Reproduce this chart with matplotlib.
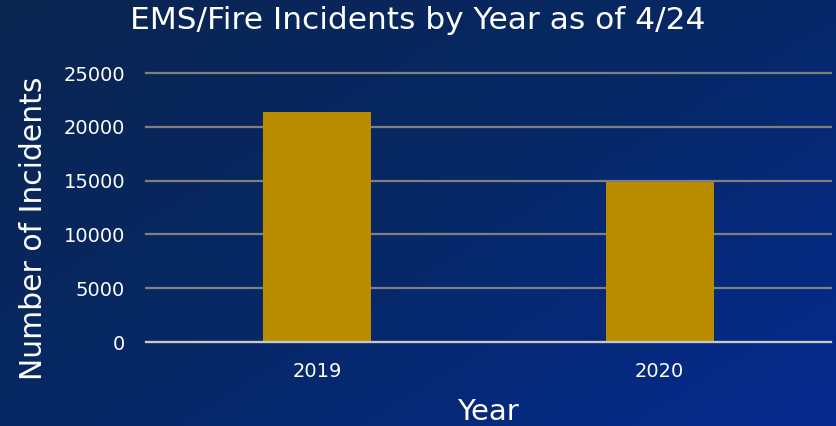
import numpy as np
import matplotlib.pyplot as plt
from matplotlib.colors import LinearSegmentedColormap

# Chart data
years = ["2019", "2020"]
incidents = [21400, 14850]
y_ticks = [0, 5000, 10000, 15000, 20000, 25000]

BAR_COLOR = "#b98c00"
FONT = "DejaVu Sans"

fig = plt.figure(figsize=(8.36, 4.26), dpi=100)

# gradient background (dark navy top-left -> brighter blue bottom-right)
bg = fig.add_axes([0, 0, 1, 1], zorder=0)
xx, yy = np.meshgrid(np.linspace(0, 1, 200), np.linspace(0, 1, 100))
grad = (xx * 0.55 + yy * 0.45)
cmap = LinearSegmentedColormap.from_list("bg", ["#0a2550", "#072866", "#052a8f"])
bg.imshow(grad, cmap=cmap, aspect="auto", extent=[0, 1, 0, 1], origin="upper")
bg.axis("off")

ax = fig.add_axes([0.1746, 0.197, 0.8194, 0.6315], zorder=1)
ax.patch.set_alpha(0)

x = np.arange(len(years))
ax.bar(x, incidents, width=0.315, color=BAR_COLOR, zorder=3)

ax.set_xlim(-0.5, len(years) - 0.5)
ax.set_ylim(0, 25000)
ax.set_yticks(y_ticks)
ax.set_yticklabels([str(t) for t in y_ticks])
ax.set_xticks(x)
ax.set_xticklabels(years)

ax.grid(axis="y", color="#7f7f7f", linewidth=1.6, zorder=1)
for gl in ax.get_ygridlines():
    gl.set_clip_on(False)
ax.axhline(0, color="#c8c8c8", linewidth=1.6, zorder=4, clip_on=False)
for s in ax.spines.values():
    s.set_visible(False)
ax.tick_params(axis="both", length=0, colors="white", labelsize=14)
ax.tick_params(axis="y", pad=15)
ax.tick_params(axis="x", pad=14)
for lbl in ax.get_xticklabels() + ax.get_yticklabels():
    lbl.set_fontfamily(FONT)

fig.text(0.5, 0.952, "EMS/Fire Incidents by Year as of 4/24", ha="center", va="center",
         color="white", fontsize=22.5, family=FONT)
fig.text(0.040, 0.464, "Number of Incidents", ha="center", va="center", rotation=90,
         color="white", fontsize=21.5, family=FONT)
fig.text(0.584, 0.032, "Year", ha="center", va="center",
         color="white", fontsize=21, family=FONT)

fig.savefig("out.png", dpi=100)
